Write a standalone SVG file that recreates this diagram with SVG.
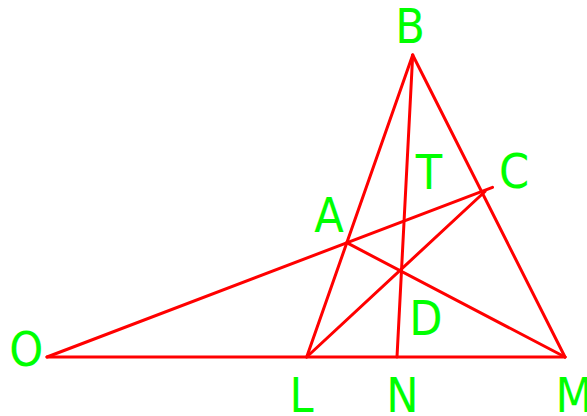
<svg xmlns="http://www.w3.org/2000/svg" width="587" height="416" viewBox="0 0 587 416">
<style>
.ln{stroke:#ff0000;stroke-width:3;fill:none;stroke-linecap:round}
.lb{fill:#00ff00;font-family:"DejaVu Sans Condensed","DejaVu Sans",sans-serif;font-stretch:condensed;font-size:48px;text-anchor:middle}
</style>
<rect width="587" height="416" fill="#ffffff"/>
<g id="connectors">
<line class="ln" x1="47" y1="357" x2="565" y2="357"/>
<line class="ln" x1="47" y1="357" x2="492.5" y2="187.3"/>
<line class="ln" x1="412.7" y1="55" x2="306.7" y2="357"/>
<line class="ln" x1="412.7" y1="55" x2="565" y2="357"/>
<line class="ln" x1="412.7" y1="55" x2="397" y2="357"/>
<line class="ln" x1="306.7" y1="357" x2="485" y2="191.5"/>
<line class="ln" x1="346.7" y1="242.7" x2="565" y2="357"/>
</g>
<g id="B"><text class="lb" x="410" y="43">B</text></g>
<g id="T"><text class="lb" x="429" y="189">T</text></g>
<g id="C"><text class="lb" x="514" y="188">C</text></g>
<g id="A"><text class="lb" x="329" y="231.7">A</text></g>
<g id="D"><text class="lb" x="426" y="335">D</text></g>
<g id="O"><text class="lb" x="26.3" y="366">O</text></g>
<g id="L"><text class="lb" x="301.5" y="412">L</text></g>
<g id="N"><text class="lb" x="402.5" y="412">N</text></g>
<g id="M"><text class="lb" x="555.4" y="412" style="text-anchor:start">M</text></g>
</svg>
